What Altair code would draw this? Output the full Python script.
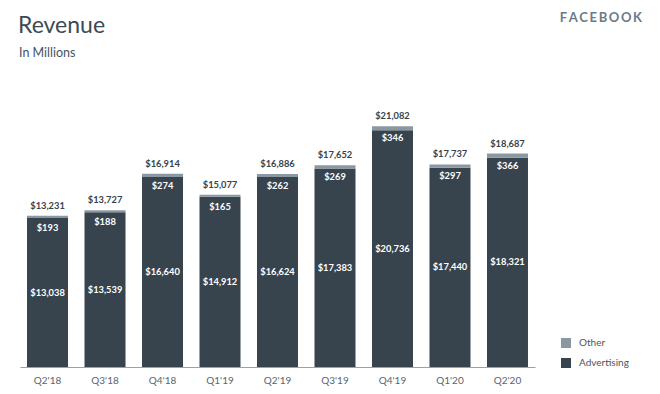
import altair as alt
import pandas as pd

quarters = ["Q2'18", "Q3'18", "Q4'18", "Q1'19", "Q2'19", "Q3'19", "Q4'19", "Q1'20", "Q2'20"]
advertising = [13038, 13539, 16640, 14912, 16624, 17383, 20736, 17440, 18321]
other = [193, 188, 274, 165, 262, 269, 346, 297, 366]
total = [13231, 13727, 16914, 15077, 16886, 17652, 21082, 17737, 18687]
series = ["Other", "Advertising"]

ADV = "#37444e"
OTH = "#8a98a3"
DARK = "#36434d"
FONT = "Lato"
LFONT = "Lato"
LSIZE = 9.3

wide = pd.DataFrame({"quarter": quarters, "advertising": advertising,
                     "other": other, "total": total})
long_rows = []
for q, a, o in zip(quarters, advertising, other):
    long_rows.append({"quarter": q, "series": "Advertising", "value": a, "ord": 0})
    long_rows.append({"quarter": q, "series": "Other", "value": o, "ord": 1})
long = pd.DataFrame(long_rows)

xenc = alt.X("quarter:N", sort=quarters, title=None,
             scale=alt.Scale(paddingInner=0.287, paddingOuter=0.122),
             axis=alt.Axis(labelAngle=0, ticks=False, domainColor="#9ba1a6",
                           labelColor="#5a646b", labelFont=FONT, labelFontSize=10,
                           labelPadding=8, grid=False))
yscale = alt.Scale(domain=[0, 26000], nice=False, zero=True)

bars = alt.Chart(long).mark_bar().encode(
    x=xenc,
    y=alt.Y("value:Q", stack="zero", scale=yscale, axis=None),
    color=alt.Color("series:N", scale=alt.Scale(domain=series, range=[OTH, ADV]),
                    legend=alt.Legend(title=None, orient="none", legendX=541, legendY=268,
                                      symbolType="square", symbolSize=100, symbolStrokeWidth=0,
                                      rowPadding=10, labelOffset=8, padding=0,
                                      labelFont=FONT, labelFontSize=10, labelColor="#4a555d")),
    order=alt.Order("ord:Q"),
)

tot_text = alt.Chart(wide).mark_text(dy=-10, baseline="middle", font=LFONT,
                                     fontSize=LSIZE, fontWeight="bold", color=DARK).encode(
    x=alt.X("quarter:N", sort=quarters),
    y=alt.Y("total:Q", scale=yscale),
    text=alt.Text("total:Q", format="$,"),
)
oth_text = alt.Chart(wide).mark_text(dy=12, baseline="middle", font=LFONT,
                                     fontSize=LSIZE, fontWeight="bold", color="white").encode(
    x=alt.X("quarter:N", sort=quarters),
    y=alt.Y("total:Q", scale=yscale),
    text=alt.Text("other:Q", format="$,"),
)
adv_text = alt.Chart(wide).transform_calculate(mid="datum.advertising / 2").mark_text(
    baseline="middle", font=LFONT, fontSize=LSIZE, fontWeight="bold", color="white").encode(
    x=alt.X("quarter:N", sort=quarters),
    y=alt.Y("mid:Q", scale=yscale),
    text=alt.Text("advertising:Q", format="$,"),
)

title = alt.Chart(pd.DataFrame({"t": ["Revenue"]})).mark_text(
    align="left", baseline="alphabetic", font=FONT, fontSize=23, color="#3c4a55").encode(
    x=alt.value(-2), y=alt.value(-37), text="t:N")
subtitle = alt.Chart(pd.DataFrame({"t": ["In Millions"]})).mark_text(
    align="left", baseline="alphabetic", font=FONT, fontSize=12.5, color="#46535d").encode(
    x=alt.value(-1), y=alt.value(-13), text="t:N")
brand = alt.Chart(pd.DataFrame({"t": ["F\u2009A\u2009C\u2009E\u2009B\u2009O\u2009O\u2009K"]})).mark_text(
    align="right", baseline="alphabetic", font=FONT, fontSize=13, fontWeight="bold",
    color="#6b7a86").encode(
    x=alt.value(622), y=alt.value(-48), text="t:N")

chart = alt.layer(bars, tot_text, oth_text, adv_text, title, subtitle, brand).properties(
    width=515, height=297,
    autosize=alt.AutoSizeParams(type="none"),
    padding={"left": 12, "top": 62, "right": 117, "bottom": 19},
).configure(background="white").configure_view(strokeWidth=0, stroke="transparent")

chart.save("out.html", embed_options={"renderer": "svg", "actions": False})
